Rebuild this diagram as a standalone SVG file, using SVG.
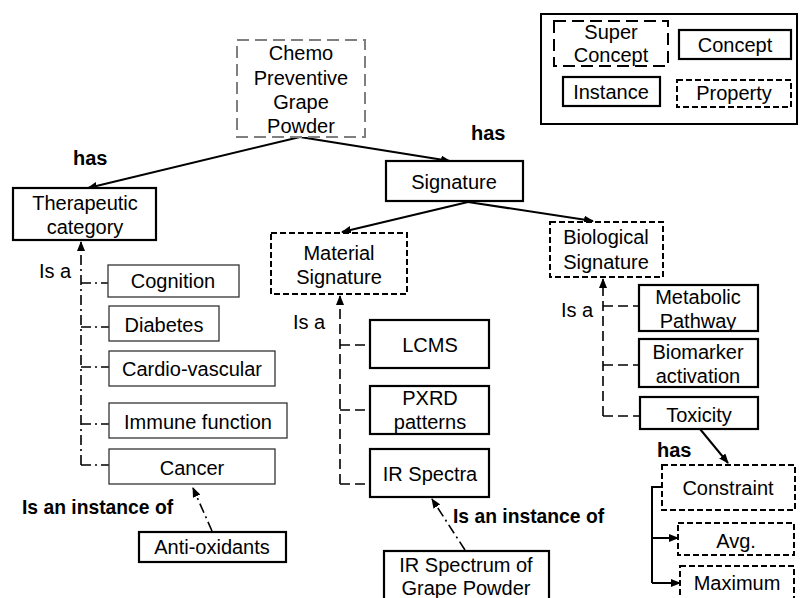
<svg xmlns="http://www.w3.org/2000/svg" width="800" height="598" viewBox="0 0 800 598">
<defs>
<marker id="ah" markerWidth="10" markerHeight="8" refX="9" refY="4" orient="auto" markerUnits="userSpaceOnUse">
<path d="M0,0 L10,4 L0,8 Z" fill="#000"/>
</marker>
<style>
text{font-family:"Liberation Sans",Arial,sans-serif;font-size:20px;fill:#000;text-anchor:middle}
.b{font-weight:bold;text-anchor:start}
.l{text-anchor:start}
.super{fill:#fff;stroke:#000;stroke-width:2;stroke-dasharray:12 6}
.chemo{fill:#fff;stroke:#7f7f7f;stroke-width:2;stroke-dasharray:12 6}
.concept{fill:#fff;stroke:#000;stroke-width:2.2}
.thin{fill:#fff;stroke:#333;stroke-width:1.3}
.inst{fill:#fff;stroke:#000;stroke-width:2.2}
.prop{fill:#fff;stroke:#000;stroke-width:2;stroke-dasharray:6 3}
.rel{fill:none;stroke:#000;stroke-width:2;marker-end:url(#ah)}
.isa{fill:none;stroke:#000;stroke-width:1.6;stroke-dasharray:10 5}
.dd{fill:none;stroke:#000;stroke-width:1.6;stroke-dasharray:10 4 2 4}
</style>
</defs>
<rect width="800" height="598" fill="#fff"/>

<g id="legend">
<rect x="541" y="14" width="256" height="110" fill="#fff" stroke="#000" stroke-width="2"/>
<rect class="super" x="554" y="21" width="114" height="45"/>
<text x="611" y="39">Super</text>
<text x="611" y="62">Concept</text>
<rect class="concept" x="679" y="30" width="112" height="29"/>
<text x="735" y="52">Concept</text>
<rect class="inst" x="563" y="77" width="97" height="29"/>
<text x="611" y="99">Instance</text>
<rect class="prop" x="677" y="80" width="114" height="27"/>
<text x="734" y="100">Property</text>
</g>

<g id="connectors">
<line class="rel" x1="300" y1="137" x2="88" y2="188"/>
<line class="rel" x1="300" y1="137" x2="450" y2="161"/>
<line class="rel" x1="468" y1="202" x2="342" y2="232"/>
<line class="rel" x1="468" y1="202" x2="593" y2="221"/>
<!-- left is-a -->
<path class="dd" d="M81,465 L81,242" marker-end="url(#ah)"/>
<path class="dd" d="M81,283 H108 M81,327 H109 M81,367 H109 M81,424 H109 M81,465 H109"/>
<!-- middle is-a -->
<path class="isa" d="M340,484 L340,296" marker-end="url(#ah)"/>
<path class="isa" d="M340,345 H370 M340,410 H370 M340,484 H370"/>
<!-- right is-a -->
<path class="isa" d="M603,416 L603,279" marker-end="url(#ah)"/>
<path class="isa" d="M603,306 H639 M603,365 H639 M603,416 H640"/>
<!-- instance of -->
<line class="dd" x1="212" y1="531" x2="193" y2="488" marker-end="url(#ah)"/>
<line class="dd" x1="465" y1="550" x2="432" y2="499" marker-end="url(#ah)"/>
<!-- toxicity has constraint -->
<line class="rel" x1="700" y1="429" x2="728" y2="463"/>
<path fill="none" stroke="#000" stroke-width="2" d="M662,487 H652 V583"/>
<line class="rel" x1="652" y1="538" x2="678" y2="538"/>
<line class="rel" x1="652" y1="583" x2="680" y2="583"/>
</g>

<g id="labels">
<text class="b" x="73" y="165">has</text>
<text class="b" x="471" y="140">has</text>
<text class="l" x="39" y="278">Is a</text>
<text class="l" x="293" y="329">Is a</text>
<text class="l" x="561" y="317">Is a</text>
<text class="b" x="22" y="514" style="font-size:19.3px">Is an instance of</text>
<text class="b" x="453" y="523" style="font-size:19.3px">Is an instance of</text>
<text class="b" x="657" y="457">has</text>
</g>

<g id="chemo">
<rect class="chemo" x="237" y="40" width="128" height="97"/>
<text x="301" y="60">Chemo</text>
<text x="301" y="85">Preventive</text>
<text x="301" y="109">Grape</text>
<text x="301" y="133">Powder</text>
</g>

<g id="therapeutic">
<rect class="concept" x="13" y="188" width="143" height="52"/>
<text x="85" y="210">Therapeutic</text>
<text x="85" y="234">category</text>
</g>

<g id="signature">
<rect class="concept" x="386" y="161" width="137" height="40"/>
<text x="454" y="189">Signature</text>
</g>

<g id="material">
<rect class="prop" x="271" y="233" width="136" height="61"/>
<text x="339" y="260">Material</text>
<text x="339" y="284">Signature</text>
</g>

<g id="biological">
<rect class="prop" x="550" y="222" width="113" height="55"/>
<text x="606" y="244">Biological</text>
<text x="606" y="269">Signature</text>
</g>

<g id="cognition"><rect class="thin" x="108" y="265" width="131" height="32"/><text x="173" y="288">Cognition</text></g>
<g id="diabetes"><rect class="thin" x="109" y="306" width="110" height="35"/><text x="164" y="332">Diabetes</text></g>
<g id="cardio"><rect class="thin" x="109" y="351" width="166" height="35"/><text x="192" y="376">Cardio-vascular</text></g>
<g id="immune"><rect class="thin" x="109" y="403" width="178" height="35"/><text x="198" y="429">Immune function</text></g>
<g id="cancer"><rect class="thin" x="109" y="449" width="166" height="35"/><text x="192" y="475">Cancer</text></g>
<g id="antioxidants"><rect class="inst" x="139" y="532" width="147" height="30"/><text x="212" y="554">Anti-oxidants</text></g>

<g id="lcms"><rect class="concept" x="370" y="320" width="119" height="48"/><text x="430" y="352">LCMS</text></g>
<g id="pxrd"><rect class="concept" x="370" y="386" width="119" height="48"/><text x="430" y="405">PXRD</text><text x="430" y="429">patterns</text></g>
<g id="irspectra"><rect class="concept" x="370" y="449" width="119" height="48"/><text x="430" y="481">IR Spectra</text></g>
<g id="irspectrum"><rect class="inst" x="384" y="551" width="165" height="52"/><text x="466" y="572">IR Spectrum of</text><text x="466" y="595">Grape Powder</text></g>

<g id="metabolic"><rect class="concept" x="639" y="285" width="119" height="46"/><text x="698" y="304">Metabolic</text><text x="698" y="328">Pathway</text></g>
<g id="biomarker"><rect class="concept" x="639" y="339" width="119" height="48"/><text x="698" y="359">Biomarker</text><text x="698" y="383">activation</text></g>
<g id="toxicity"><rect class="concept" x="640" y="397" width="118" height="32"/><text x="699" y="422">Toxicity</text></g>
<g id="constraint"><rect class="prop" x="662" y="465" width="133" height="45"/><text x="728" y="495">Constraint</text></g>
<g id="avg"><rect class="prop" x="678" y="523" width="116" height="32"/><text x="736" y="548">Avg.</text></g>
<g id="maximum"><rect class="prop" x="680" y="566" width="114" height="40"/><text x="737" y="590">Maximum</text></g>
</svg>
